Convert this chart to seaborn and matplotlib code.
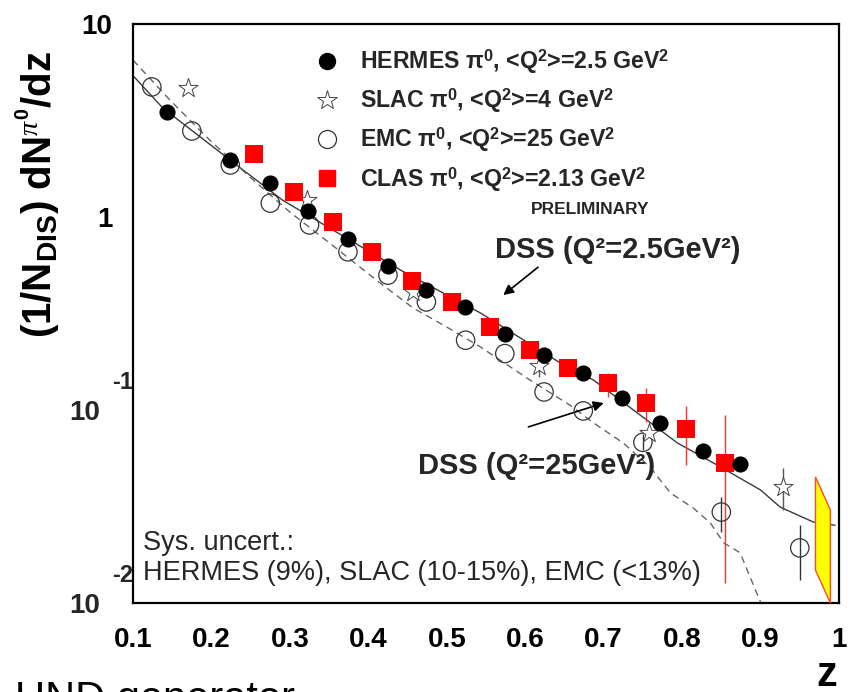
import numpy as np
import pandas as pd
import matplotlib
matplotlib.use("Agg")
import matplotlib.pyplot as plt
from matplotlib.lines import Line2D
from matplotlib.ticker import FixedLocator, MultipleLocator, LogLocator, NullFormatter
import seaborn as sns

# ---------------- data ----------------
hermes_z = [0.143, 0.224, 0.275, 0.323, 0.374, 0.425, 0.474, 0.523, 0.574, 0.624, 0.674, 0.724, 0.772, 0.826, 0.874]
hermes_y = [3.5, 1.97, 1.5, 1.07, 0.77, 0.557, 0.42, 0.34, 0.248, 0.193, 0.156, 0.115, 0.0857, 0.0614, 0.0525]

slac_z = [0.170, 0.322, 0.457, 0.617, 0.758, 0.929]
slac_y = [4.66, 1.22, 0.41, 0.170, 0.076, 0.040]
slac_ylo = [4.66, 1.22, 0.41, 0.148, 0.076, 0.0303]
slac_yhi = [4.66, 1.22, 0.41, 0.190, 0.076, 0.050]

emc_z = [0.124, 0.175, 0.224, 0.275, 0.325, 0.374, 0.425, 0.474, 0.524, 0.574, 0.624, 0.674, 0.750, 0.850, 0.950]
emc_y = [4.72, 2.79, 1.86, 1.18, 0.91, 0.66, 0.50, 0.363, 0.23, 0.196, 0.124, 0.0989, 0.068, 0.0296, 0.0193]
emc_ylo = [4.72, 2.79, 1.86, 1.18, 0.91, 0.66, 0.50, 0.363, 0.23, 0.196, 0.124, 0.0989, 0.062, 0.0233, 0.0132]
emc_yhi = [4.72, 2.79, 1.86, 1.18, 0.91, 0.66, 0.50, 0.363, 0.23, 0.196, 0.124, 0.0989, 0.075, 0.0354, 0.0254]

clas_z = [0.254, 0.305, 0.355, 0.405, 0.456, 0.507, 0.555, 0.606, 0.655, 0.705, 0.754, 0.805, 0.855]
clas_y = [2.12, 1.35, 0.94, 0.66, 0.466, 0.363, 0.269, 0.205, 0.165, 0.138, 0.109, 0.0797, 0.0531]
clas_ylo = [2.12, 1.35, 0.94, 0.66, 0.466, 0.363, 0.269, 0.205, 0.165, 0.117, 0.0867, 0.0519, 0.0127]
clas_yhi = [2.12, 1.35, 0.94, 0.66, 0.466, 0.363, 0.269, 0.205, 0.165, 0.155, 0.130, 0.105, 0.094]

dss25_z = [0.10, 0.138, 0.224, 0.291, 0.374, 0.441, 0.543, 0.645, 0.687, 0.743, 0.794, 0.849, 0.90, 0.925, 0.967, 0.995]
dss25_y = [5.4, 3.67, 1.97, 1.22, 0.77, 0.531, 0.318, 0.175, 0.143, 0.0965, 0.0675, 0.0507, 0.0385, 0.0314, 0.0263, 0.0253]

dss250_z = [0.10, 0.147, 0.198, 0.249, 0.30, 0.35, 0.415, 0.457, 0.50, 0.543, 0.606, 0.657, 0.687, 0.725, 0.759, 0.785, 0.814, 0.836, 0.853, 0.874, 0.883, 0.90]
dss250_y = [6.5, 4.04, 2.5, 1.61, 1.06, 0.736, 0.455, 0.338, 0.269, 0.212, 0.143, 0.106, 0.0857, 0.0675, 0.0507, 0.0372, 0.0311, 0.026, 0.0205, 0.0182, 0.0148, 0.0101]

band_z = [0.970, 0.989, 0.989, 0.970]
band_y = [0.045, 0.0303, 0.0100, 0.0148]

x_ticks = [0.1, 0.2, 0.3, 0.4, 0.5, 0.6, 0.7, 0.8, 0.9, 1.0]
x_ticklabels = ["0.1", "0.2", "0.3", "0.4", "0.5", "0.6", "0.7", "0.8", "0.9", "1"]

legend_labels = [
    r"HERMES π$^{\mathbf{0}}$, <Q$^{\mathbf{2}}$>=2.5 GeV$^{\mathbf{2}}$",
    r"SLAC π$^{\mathbf{0}}$, <Q$^{\mathbf{2}}$>=4 GeV$^{\mathbf{2}}$",
    r"EMC π$^{\mathbf{0}}$, <Q$^{\mathbf{2}}$>=25 GeV$^{\mathbf{2}}$",
    r"CLAS π$^{\mathbf{0}}$, <Q$^{\mathbf{2}}$>=2.13 GeV$^{\mathbf{2}}$",
]

# ---------------- style ----------------
sns.set_theme(style="white")
plt.rcParams["font.family"] = ["Liberation Sans", "DejaVu Sans"]
plt.rcParams["mathtext.fontset"] = "custom"
plt.rcParams["mathtext.rm"] = "Liberation Sans"
plt.rcParams["mathtext.bf"] = "Liberation Sans:bold"
plt.rcParams["mathtext.it"] = "Liberation Serif:italic"
plt.rcParams["mathtext.sf"] = "Liberation Sans"

fig = plt.figure(figsize=(8.54, 6.92), dpi=100)
ax = fig.add_axes([133 / 854, 1 - 603 / 692, 706 / 854, 579 / 692])
ax.set_facecolor("white")

ax.set_yscale("log")
ax.set_xlim(0.1, 1.0)
ax.set_ylim(0.01, 10)

# DSS curves
sns.lineplot(x=dss25_z, y=dss25_y, ax=ax, color="#3a3a3a", lw=1.0, sort=False, estimator=None)
sns.lineplot(x=dss250_z, y=dss250_y, ax=ax, color="#666666", lw=1.0, sort=False, estimator=None)
ax.lines[-1].set_dashes([5, 3.5])

# yellow band
ax.fill(band_z, band_y, facecolor="#ffff00", edgecolor="#ff4a2a", lw=1.0, zorder=4)

# error bars
def bars(z, y, lo, hi, color, lw=1.0):
    y = np.array(y); lo = np.array(lo); hi = np.array(hi)
    ax.errorbar(z, y, yerr=[y - lo, hi - y], fmt="none", ecolor=color, elinewidth=lw, capsize=0, zorder=3)

bars(emc_z, emc_y, emc_ylo, emc_yhi, "#333333")
bars(slac_z, slac_y, slac_ylo, slac_yhi, "#555555")
bars(clas_z, clas_y, clas_ylo, clas_yhi, "#ff3030")

# markers
sns.scatterplot(x=emc_z, y=emc_y, ax=ax, marker="o", s=175, facecolor="none", edgecolor="#333333", linewidth=0.9, zorder=5)
sns.scatterplot(x=slac_z, y=slac_y, ax=ax, marker="*", s=210, facecolor="white", edgecolor="#444444", linewidth=0.7, zorder=5)
sns.scatterplot(x=clas_z, y=clas_y, ax=ax, marker="s", s=150, color="#ff0000", edgecolor="#ff0000", linewidth=0, zorder=6)
sns.scatterplot(x=hermes_z, y=hermes_y, ax=ax, marker="o", s=135, color="black", edgecolor="black", linewidth=0, zorder=7)

# axes styling
for sp in ax.spines.values():
    sp.set_linewidth(1.6)
    sp.set_color("black")
ax.xaxis.set_major_locator(FixedLocator(x_ticks))
ax.set_xticklabels(x_ticklabels)
ax.xaxis.set_minor_locator(MultipleLocator(0.02))
ax.yaxis.set_major_locator(FixedLocator([0.01, 0.1, 1, 10]))
ax.set_yticklabels(["", "", "1", "10"])
ax.yaxis.set_minor_locator(LogLocator(base=10, subs=np.arange(2, 10)))
ax.yaxis.set_minor_formatter(NullFormatter())
ax.tick_params(axis="both", which="major", direction="in", length=11, width=1.1,
               top=False, right=False, labelsize=20, pad=17, colors="black")
ax.tick_params(axis="both", which="minor", direction="in", length=5.5, width=1.0,
               top=False, right=False)
ax.tick_params(axis="y", which="major", pad=15)
for t in ax.get_xticklabels() + ax.get_yticklabels():
    t.set_fontweight("bold")

# y tick labels for 10^-1 and 10^-2 in ROOT style
for val, exp in [(0.1, "-1"), (0.01, "-2")]:
    ax.annotate("10", xy=(0, val), xycoords=("axes fraction", "data"), xytext=(-24, -2),
                textcoords="offset points", ha="right", va="center", fontsize=20, fontweight="bold")
    ax.annotate(exp, xy=(0, val), xycoords=("axes fraction", "data"), xytext=(0, 20),
                textcoords="offset points", ha="right", va="center", fontsize=17, fontweight="bold")

# labels
ax.set_ylabel(r"(1/N$_{\mathbf{DIS}}$) dN$^{\pi^{\mathbf{0}}}$/dz", fontsize=29, fontweight="bold", color="black")
ax.yaxis.set_label_coords(-0.100, 0.706)
ax.set_xlabel("z", fontsize=30, fontweight="bold", color="black")
ax.xaxis.set_label_coords(0.982, -0.090)

# legend
handles = [
    Line2D([], [], ls="none", marker="o", ms=11.5, mfc="black", mec="black"),
    Line2D([], [], ls="none", marker="*", ms=14.5, mfc="white", mec="#444444", mew=0.7),
    Line2D([], [], ls="none", marker="o", ms=13, mfc="white", mec="#333333", mew=0.9),
    Line2D([], [], ls="none", marker="s", ms=12, mfc="#ff0000", mec="#ff0000"),
]
leg = ax.legend(handles, legend_labels, loc="upper left", bbox_to_anchor=(0.259, 0.960),
                frameon=False, borderpad=0, borderaxespad=0, handlelength=1.0,
                handletextpad=0.9, labelspacing=0.45,
                prop={"family": "Liberation Sans", "weight": "bold", "size": 16.7})

ax.text(0.647, 0.679, "PRELIMINARY", transform=ax.transAxes, fontsize=12.5,
        fontweight="bold", ha="center", va="center")

ax.annotate("DSS (Q²=2.5GeV²)", xy=(0.572, 0.394), xytext=(0.562, 0.675), textcoords="data",
            fontsize=21, fontweight="bold", ha="left", va="center",
            arrowprops=dict(arrowstyle="-|>", color="black", lw=1.2, mutation_scale=15,
                            shrinkA=0, shrinkB=0, relpos=(0.19, 0.0)))
ax.annotate("", xy=(0.700, 0.1087), xytext=(0.604, 0.0817),
            arrowprops=dict(arrowstyle="-|>", color="black", lw=1.2, mutation_scale=15,
                            shrinkA=0, shrinkB=0))
ax.text(0.4635, 0.0513, "DSS (Q²=25GeV²)", fontsize=21, fontweight="bold", ha="left", va="center")

ax.text(0.014, 0.104, "Sys. uncert.:", transform=ax.transAxes, fontsize=19.5, ha="left", va="center")
ax.text(0.014, 0.052, "HERMES (9%), SLAC (10-15%), EMC (<13%)", transform=ax.transAxes,
        fontsize=19.5, ha="left", va="center")

fig.text(15 / 854, 1 - 680 / 692, "UND generator", fontsize=30, ha="left", va="top", color="black")

fig.savefig("out.png", dpi=100, facecolor="white")
